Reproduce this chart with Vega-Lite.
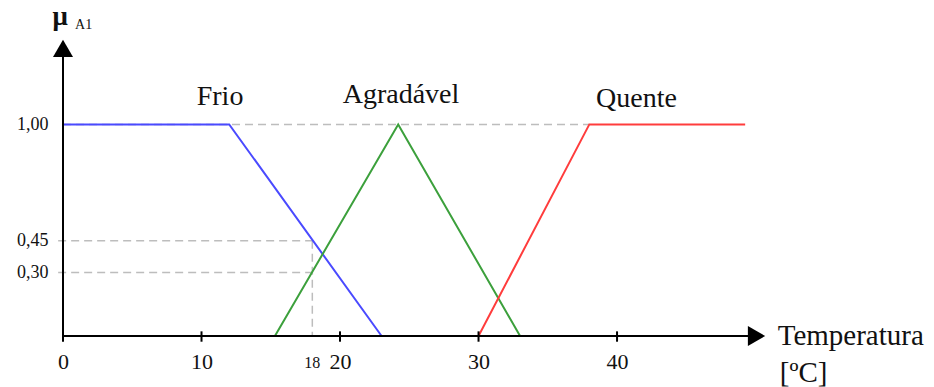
{
  "$schema": "https://vega.github.io/schema/vega-lite/v6.json",
  "width": 701,
  "height": 328,
  "autosize": {"type": "none"},
  "padding": {"left": 63, "top": 8, "right": 170, "bottom": 51},
  "background": "white",
  "config": {"view": {"stroke": null}, "font": "Liberation Serif"},
  "datasets": {
    "mf": [
      {"set": "Frio", "x": 0, "y": 1},
      {"set": "Frio", "x": 12, "y": 1},
      {"set": "Frio", "x": 23, "y": 0},
      {"set": "Agradável", "x": 15.3, "y": 0},
      {"set": "Agradável", "x": 24.2, "y": 1},
      {"set": "Agradável", "x": 33, "y": 0},
      {"set": "Quente", "x": 30, "y": 0},
      {"set": "Quente", "x": 38, "y": 1},
      {"set": "Quente", "x": 49.25, "y": 1}
    ],
    "guides": [
      {"x": 0, "y": 1, "x2": 38, "y2": 1},
      {"x": -0.35, "y": 0.45, "x2": 18, "y2": 0.45},
      {"x": -0.35, "y": 0.3, "x2": 18, "y2": 0.3},
      {"x": 18, "y": 0.45, "x2": 18, "y2": 0}
    ],
    "axes": [
      {"x": 0, "y": 0, "x2": 49.6, "y2": 0},
      {"x": 0, "y": 0, "x2": 0, "y2": 1.33}
    ],
    "ticks": [{"x": 0}, {"x": 10}, {"x": 20}, {"x": 30}, {"x": 40}],
    "arrows": [
      {"x": 50.07, "y": 0, "dir": "right"},
      {"x": 0, "y": 1.359, "dir": "up"}
    ],
    "names": [
      {"x": 11.34, "y": 1.092, "label": "Frio"},
      {"x": 24.4, "y": 1.101, "label": "Agradável"},
      {"x": 41.4, "y": 1.082, "label": "Quente"}
    ],
    "xtitle": [
      {"x": 51.6, "y": -0.0425, "label": "Temperatura"},
      {"x": 51.75, "y": -0.216, "label": "[ºC]"}
    ]
  },
  "layer": [
    {
      "data": {"name": "guides"},
      "mark": {"type": "rule", "color": "#bdbdbd", "strokeWidth": 1.5, "strokeDash": [8, 5]},
      "encoding": {
        "x": {"field": "x", "type": "quantitative", "scale": {"domain": [0, 50.61], "nice": false, "zero": false},
          "axis": {"values": [0, 10, 20, 30, 40], "domain": false, "ticks": false, "tickSize": 0, "grid": false,
            "labelFontSize": 22, "labelFont": "Liberation Serif", "labelColor": "#111", "labelBaseline": "alphabetic",
            "labelPadding": 32, "title": null, "labelFlush": false, "labelOverlap": false}},
        "y": {"field": "y", "type": "quantitative", "scale": {"domain": [0, 1.55], "nice": false, "zero": false},
          "axis": {"values": [0.3, 0.45, 1], "domain": false, "ticks": false, "tickSize": 0, "grid": false,
            "labelExpr": "replace(format(datum.value, '.2f'), '.', ',')", "labelFontSize": 18, "labelFont": "Liberation Serif",
            "labelColor": "#111", "labelPadding": 15, "labelBaseline": "middle", "title": null}},
        "x2": {"field": "x2"},
        "y2": {"field": "y2"}
      }
    },
    {
      "data": {"name": "mf"},
      "mark": {"type": "line", "strokeWidth": 2},
      "encoding": {
        "x": {"field": "x", "type": "quantitative"},
        "y": {"field": "y", "type": "quantitative"},
        "color": {"field": "set", "type": "nominal",
          "scale": {"domain": ["Frio", "Agradável", "Quente"], "range": ["#4a4aff", "#3ca03c", "#ff3c3c"]},
          "legend": null}
      }
    },
    {
      "data": {"name": "axes"},
      "mark": {"type": "rule", "color": "#000", "strokeWidth": 2},
      "encoding": {
        "x": {"field": "x", "type": "quantitative"},
        "y": {"field": "y", "type": "quantitative"},
        "x2": {"field": "x2"},
        "y2": {"field": "y2"}
      }
    },
    {
      "data": {"name": "ticks"},
      "mark": {"type": "rule", "color": "#000", "strokeWidth": 2},
      "encoding": {
        "x": {"field": "x", "type": "quantitative"},
        "y": {"datum": -0.027, "type": "quantitative"},
        "y2": {"datum": 0.022}
      }
    },
    {
      "data": {"name": "arrows"},
      "mark": {"type": "point", "filled": true, "color": "#000", "opacity": 1, "size": 400},
      "encoding": {
        "x": {"field": "x", "type": "quantitative"},
        "y": {"field": "y", "type": "quantitative"},
        "shape": {"field": "dir", "type": "nominal",
          "scale": {"domain": ["right", "up"], "range": ["triangle-right", "triangle-up"]}, "legend": null}
      }
    },
    {
      "data": {"name": "names"},
      "mark": {"type": "text", "fontSize": 28, "font": "Liberation Serif", "color": "#111", "align": "center", "baseline": "alphabetic"},
      "encoding": {
        "x": {"field": "x", "type": "quantitative"},
        "y": {"field": "y", "type": "quantitative"},
        "text": {"field": "label"}
      }
    },
    {
      "data": {"name": "xtitle"},
      "mark": {"type": "text", "fontSize": 29, "font": "Liberation Serif", "color": "#111", "align": "left", "baseline": "alphabetic"},
      "encoding": {
        "x": {"field": "x", "type": "quantitative"},
        "y": {"field": "y", "type": "quantitative"},
        "text": {"field": "label"}
      }
    },
    {
      "data": {"values": [{"x": 18, "y": -0.151, "label": "18"}]},
      "mark": {"type": "text", "fontSize": 16, "font": "Liberation Serif", "color": "#111", "align": "center", "baseline": "alphabetic"},
      "encoding": {
        "x": {"field": "x", "type": "quantitative"},
        "y": {"field": "y", "type": "quantitative"},
        "text": {"field": "label"}
      }
    },
    {
      "data": {"values": [{"x": -0.2, "y": 1.47, "label": "μ"}]},
      "mark": {"type": "text", "fontSize": 27, "fontWeight": "bold", "font": "Liberation Serif", "color": "#111", "align": "center", "baseline": "alphabetic"},
      "encoding": {
        "x": {"field": "x", "type": "quantitative"},
        "y": {"field": "y", "type": "quantitative"},
        "text": {"field": "label"}
      }
    },
    {
      "data": {"values": [{"x": 0.87, "y": 1.451, "label": "A1"}]},
      "mark": {"type": "text", "fontSize": 14, "font": "Liberation Serif", "color": "#111", "align": "left", "baseline": "alphabetic"},
      "encoding": {
        "x": {"field": "x", "type": "quantitative"},
        "y": {"field": "y", "type": "quantitative"},
        "text": {"field": "label"}
      }
    }
  ]
}
